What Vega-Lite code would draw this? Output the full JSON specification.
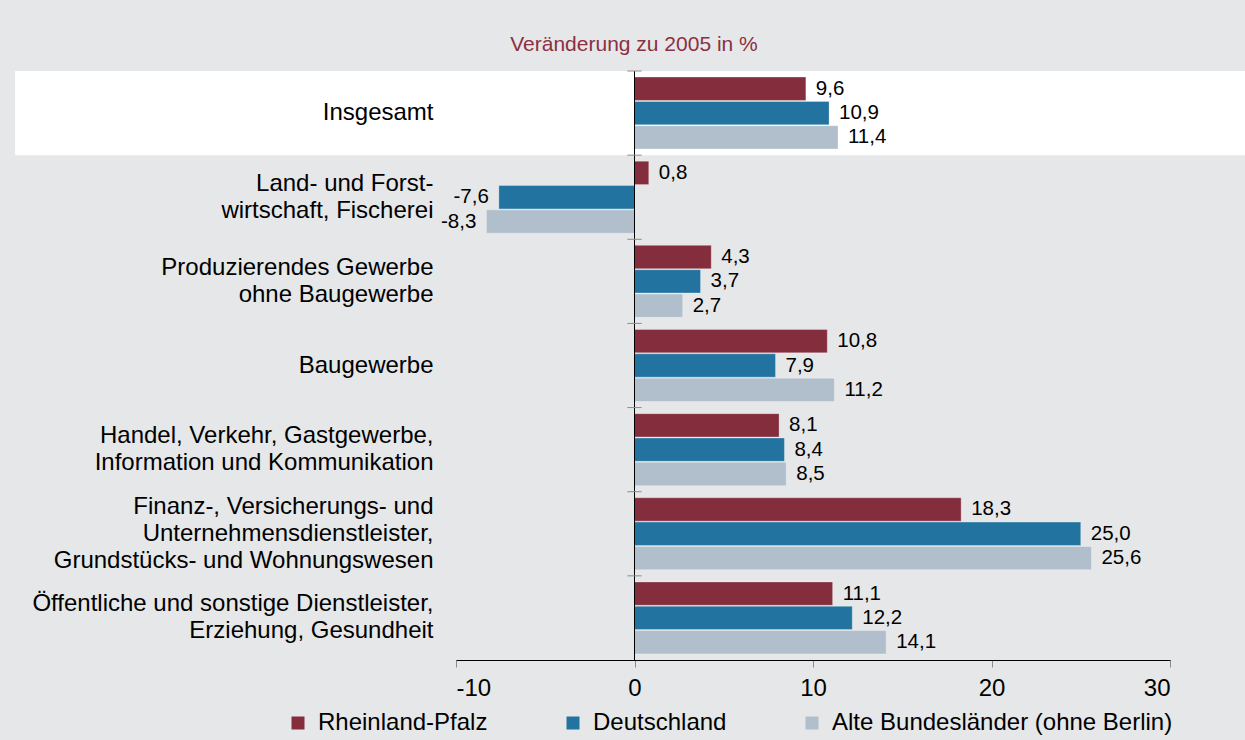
{
  "$schema": "https://vega.github.io/schema/vega-lite/v6.json",
  "width": 714,
  "height": 589,
  "autosize": "none",
  "padding": {"left": 456, "top": 71, "right": 75, "bottom": 80},
  "background": "#e6e7e8",
  "config": {
    "font": "Liberation Sans",
    "locale": {"number": {"decimal": ",", "thousands": ".", "grouping": [3], "currency": ["", " €"], "minus": "-"}},
    "view": {"stroke": null},
    "axisX": {"domainColor": "#000000", "domainWidth": 1, "tickColor": "#8c8c8c", "tickSize": 7, "labelFontSize": 24, "labelColor": "#000000", "labelPadding": 9, "grid": false, "title": null},
    "axisY": {"domain": false, "ticks": false, "tickSize": 0, "grid": false, "labelPadding": 23, "labelFontSize": 24, "labelColor": "#000000", "labelLimit": 600, "labelLineHeight": 27, "labelAlign": "right", "labelBaseline": "middle", "title": null}
  },
  "title": {"text": "Veränderung zu 2005 in %", "color": "#8c3042", "fontSize": 21, "fontWeight": "normal", "anchor": "middle", "frame": "group", "dx": -179, "offset": 16},
  "datasets": {
    "main": [
      {"Kategorie": "Insgesamt", "Reihe": "Rheinland-Pfalz", "Wert": 9.6},
      {"Kategorie": "Insgesamt", "Reihe": "Deutschland", "Wert": 10.9},
      {"Kategorie": "Insgesamt", "Reihe": "Alte Bundesländer (ohne Berlin)", "Wert": 11.4},
      {"Kategorie": "Land- und Forst-|wirtschaft, Fischerei", "Reihe": "Rheinland-Pfalz", "Wert": 0.8},
      {"Kategorie": "Land- und Forst-|wirtschaft, Fischerei", "Reihe": "Deutschland", "Wert": -7.6},
      {"Kategorie": "Land- und Forst-|wirtschaft, Fischerei", "Reihe": "Alte Bundesländer (ohne Berlin)", "Wert": -8.3},
      {"Kategorie": "Produzierendes Gewerbe|ohne Baugewerbe", "Reihe": "Rheinland-Pfalz", "Wert": 4.3},
      {"Kategorie": "Produzierendes Gewerbe|ohne Baugewerbe", "Reihe": "Deutschland", "Wert": 3.7},
      {"Kategorie": "Produzierendes Gewerbe|ohne Baugewerbe", "Reihe": "Alte Bundesländer (ohne Berlin)", "Wert": 2.7},
      {"Kategorie": "Baugewerbe", "Reihe": "Rheinland-Pfalz", "Wert": 10.8},
      {"Kategorie": "Baugewerbe", "Reihe": "Deutschland", "Wert": 7.9},
      {"Kategorie": "Baugewerbe", "Reihe": "Alte Bundesländer (ohne Berlin)", "Wert": 11.2},
      {"Kategorie": "Handel, Verkehr, Gastgewerbe,|Information und Kommunikation", "Reihe": "Rheinland-Pfalz", "Wert": 8.1},
      {"Kategorie": "Handel, Verkehr, Gastgewerbe,|Information und Kommunikation", "Reihe": "Deutschland", "Wert": 8.4},
      {"Kategorie": "Handel, Verkehr, Gastgewerbe,|Information und Kommunikation", "Reihe": "Alte Bundesländer (ohne Berlin)", "Wert": 8.5},
      {"Kategorie": "Finanz-, Versicherungs- und|Unternehmensdienstleister,|Grundstücks- und Wohnungswesen", "Reihe": "Rheinland-Pfalz", "Wert": 18.3},
      {"Kategorie": "Finanz-, Versicherungs- und|Unternehmensdienstleister,|Grundstücks- und Wohnungswesen", "Reihe": "Deutschland", "Wert": 25.0},
      {"Kategorie": "Finanz-, Versicherungs- und|Unternehmensdienstleister,|Grundstücks- und Wohnungswesen", "Reihe": "Alte Bundesländer (ohne Berlin)", "Wert": 25.6},
      {"Kategorie": "Öffentliche und sonstige Dienstleister,|Erziehung, Gesundheit", "Reihe": "Rheinland-Pfalz", "Wert": 11.1},
      {"Kategorie": "Öffentliche und sonstige Dienstleister,|Erziehung, Gesundheit", "Reihe": "Deutschland", "Wert": 12.2},
      {"Kategorie": "Öffentliche und sonstige Dienstleister,|Erziehung, Gesundheit", "Reihe": "Alte Bundesländer (ohne Berlin)", "Wert": 14.1}
    ]
  },
  "data": {"name": "main"},
  "layer": [
    {
      "transform": [{"filter": "datum.Kategorie == 'Insgesamt' && datum.Reihe == 'Rheinland-Pfalz'"}],
      "mark": {"type": "rect", "fill": "#ffffff", "stroke": null},
      "encoding": {
        "y": {
          "field": "Kategorie", "type": "nominal", "sort": null, "title": null,
          "scale": {"paddingInner": 0, "paddingOuter": 0},
          "axis": {
            "title": null, "zindex": 1,
            "labelExpr": "split(datum.value, '|')",
            "labelOffset": {
              "condition": [
                {"test": "length(split(datum.value, '|')) == 3", "value": -27},
                {"test": "length(split(datum.value, '|')) == 2", "value": -13.5}
              ],
              "value": 0
            }
          }
        },
        "x": {"datum": -34.7, "type": "quantitative", "scale": {"domain": [-10, 30], "nice": false, "zero": false}},
        "x2": {"datum": 36}
      }
    },
    {
      "mark": {"type": "bar", "stroke": "#ffffff", "strokeOpacity": 0.3, "strokeWidth": 1},
      "encoding": {
        "y": {"field": "Kategorie", "type": "nominal", "sort": null, "title": null, "scale": {"paddingInner": 0, "paddingOuter": 0}},
        "yOffset": {"field": "Reihe", "type": "nominal", "sort": ["Rheinland-Pfalz", "Deutschland", "Alte Bundesländer (ohne Berlin)"], "scale": {"paddingInner": 0.04, "paddingOuter": 0.25}},
        "x": {"field": "Wert", "type": "quantitative", "title": null, "scale": {"domain": [-10, 30], "nice": false, "zero": false}, "axis": {"values": [-10, 0, 10, 20, 30], "title": null}},
        "color": {
          "field": "Reihe", "type": "nominal",
          "sort": ["Rheinland-Pfalz", "Deutschland", "Alte Bundesländer (ohne Berlin)"],
          "scale": {"domain": ["Rheinland-Pfalz", "Deutschland", "Alte Bundesländer (ohne Berlin)"], "range": ["#832d3d", "#22739f", "#b1bfcc"]},
          "legend": {"orient": "none", "legendX": -170, "legendY": 640, "direction": "horizontal", "title": null, "symbolType": "square", "symbolSize": 169, "symbolStrokeWidth": 0, "labelFontSize": 24, "labelColor": "#000000", "labelOffset": 8, "columnPadding": 73, "padding": 0, "labelLimit": 500}
        }
      }
    },
    {
      "data": {"values": [{"Null": 0}]},
      "mark": {"type": "rule", "color": "#000000", "strokeWidth": 1},
      "encoding": {
        "x": {"field": "Null", "type": "quantitative", "scale": {"domain": [-10, 30], "nice": false, "zero": false}}
      }
    },
    {
      "transform": [{"filter": "datum.Reihe == 'Rheinland-Pfalz'"}],
      "mark": {"type": "rule", "color": "#8c8c8c", "strokeWidth": 1},
      "encoding": {
        "y": {"field": "Kategorie", "type": "nominal", "sort": null, "title": null, "bandPosition": 0, "scale": {"paddingInner": 0, "paddingOuter": 0}},
        "x": {"datum": -0.4, "type": "quantitative", "scale": {"domain": [-10, 30], "nice": false, "zero": false}},
        "x2": {"datum": 0.4}
      }
    },
    {
      "transform": [{"filter": "datum.Wert >= 0"}],
      "mark": {"type": "text", "align": "left", "baseline": "middle", "dx": 10, "fontSize": 20.5, "color": "#000000"},
      "encoding": {
        "y": {"field": "Kategorie", "type": "nominal", "sort": null, "title": null, "scale": {"paddingInner": 0, "paddingOuter": 0}},
        "yOffset": {"field": "Reihe", "type": "nominal", "sort": ["Rheinland-Pfalz", "Deutschland", "Alte Bundesländer (ohne Berlin)"], "scale": {"paddingInner": 0.04, "paddingOuter": 0.25}},
        "x": {"field": "Wert", "type": "quantitative", "scale": {"domain": [-10, 30], "nice": false, "zero": false}},
        "text": {"field": "Wert", "type": "quantitative", "format": ".1f"}
      }
    },
    {
      "transform": [{"filter": "datum.Wert < 0"}],
      "mark": {"type": "text", "align": "right", "baseline": "middle", "dx": -10, "fontSize": 20.5, "color": "#000000"},
      "encoding": {
        "y": {"field": "Kategorie", "type": "nominal", "sort": null, "title": null, "scale": {"paddingInner": 0, "paddingOuter": 0}},
        "yOffset": {"field": "Reihe", "type": "nominal", "sort": ["Rheinland-Pfalz", "Deutschland", "Alte Bundesländer (ohne Berlin)"], "scale": {"paddingInner": 0.04, "paddingOuter": 0.25}},
        "x": {"field": "Wert", "type": "quantitative", "scale": {"domain": [-10, 30], "nice": false, "zero": false}},
        "text": {"field": "Wert", "type": "quantitative", "format": ".1f"}
      }
    }
  ]
}
